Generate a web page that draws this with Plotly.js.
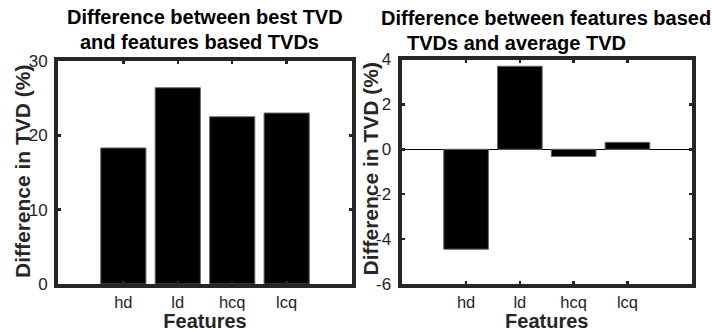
<!DOCTYPE html>
<html>
<head>
<meta charset="utf-8">
<script src="https://cdn.plot.ly/plotly-3.0.1.min.js"></script>
<style>html,body{margin:0;padding:0;background:#fff;}#chart{width:712px;height:332px;}</style>
</head>
<body>
<div id="chart"></div>
<script>
const features = ['hd', 'ld', 'hcq', 'lcq'];
const bestDiff = [18.3, 26.4, 22.5, 23.0];
const avgDiff = [-4.45, 3.7, -0.32, 0.31];
const leftTicks = [0, 10, 20, 30];
const rightTicks = [-6, -4, -2, 0, 2, 4];
const leftTitleLines = ['Difference between best TVD', 'and features based TVDs'];
const rightTitleLines = ['Difference between features based', 'TVDs and average TVD'];
const xLabel = 'Features';
const yLabel = 'Difference in TVD (%)';

const W = 712, H = 332;
const px = v => v / W;
const py = v => (H - v) / H;
const FONT = '"Liberation Sans", Arial, Helvetica, sans-serif';
const AX = '#262626';

const barStyle = {type: 'bar', width: 0.83, marker: {color: '#000000', line: {color: '#666666', width: 1}}, showlegend: false, hoverinfo: 'x+y'};

const traces = [
  Object.assign({x: features, y: bestDiff, xaxis: 'x', yaxis: 'y'}, barStyle),
  Object.assign({x: features, y: avgDiff, xaxis: 'x2', yaxis: 'y2'}, barStyle)
];

function xAxis(domain, anchor) {
  return {
    domain: domain, anchor: anchor, type: 'category', range: [-1.2, 4.2],
    showline: true, linewidth: 4, linecolor: AX, mirror: 'ticks',
    ticks: 'inside', ticklen: 3, tickwidth: 2.5, tickcolor: AX,
    showgrid: false, zeroline: false, fixedrange: true,
    tickfont: {family: FONT, size: 16.5, color: AX},
    ticklabelstandoff: 0,
    title: {text: xLabel, font: {family: FONT, size: 20, color: AX, weight: 'bold'}, standoff: 2}
  };
}
function yAxis(domain, anchor, range, ticks, zl) {
  return {
    domain: domain, anchor: anchor, range: range, tickvals: ticks, ticktext: ticks.map(String),
    showline: true, linewidth: 4, linecolor: AX, mirror: 'ticks',
    ticks: 'inside', ticklen: 3, tickwidth: 2.5, tickcolor: AX,
    showgrid: false, zeroline: zl, zerolinecolor: '#000000', zerolinewidth: 1, fixedrange: true,
    tickfont: {family: FONT, size: 17, color: AX},
    ticklabelstandoff: 3
  };
}

function titleAnn(text, cx, cy) {
  return {text: '<b>' + text + '</b>', xref: 'paper', yref: 'paper', x: px(cx), y: py(cy),
    xanchor: 'center', yanchor: 'middle', showarrow: false,
    font: {family: FONT, size: 20, color: '#000000'}};
}
function yTitleAnn(cx, cy) {
  return {text: '<b>' + yLabel + '</b>', xref: 'paper', yref: 'paper', x: px(cx), y: py(cy),
    xanchor: 'center', yanchor: 'middle', textangle: -90, showarrow: false,
    font: {family: FONT, size: 21, color: AX}};
}

const layout = {
  width: W, height: H,
  margin: {l: 0, r: 0, t: 0, b: 0},
  paper_bgcolor: '#ffffff', plot_bgcolor: '#ffffff',
  showlegend: false,
  xaxis: xAxis([px(58), px(352)], 'y'),
  yaxis: yAxis([py(284), py(61)], 'x', [0, 30], leftTicks, false),
  xaxis2: xAxis([px(401.5), px(692)], 'y2'),
  yaxis2: yAxis([py(284), py(59.5)], 'x2', [-6, 4], rightTicks, true),
  annotations: [
    titleAnn(leftTitleLines[0], 205, 17),
    titleAnn(leftTitleLines[1], 199, 42),
    titleAnn(rightTitleLines[0], 546, 18),
    titleAnn(rightTitleLines[1], 516, 43),
    yTitleAnn(22, 171),
    yTitleAnn(369.5, 169)
  ]
};

Plotly.newPlot('chart', traces, layout, {displayModeBar: false, staticPlot: true});
</script>
</body>
</html>
